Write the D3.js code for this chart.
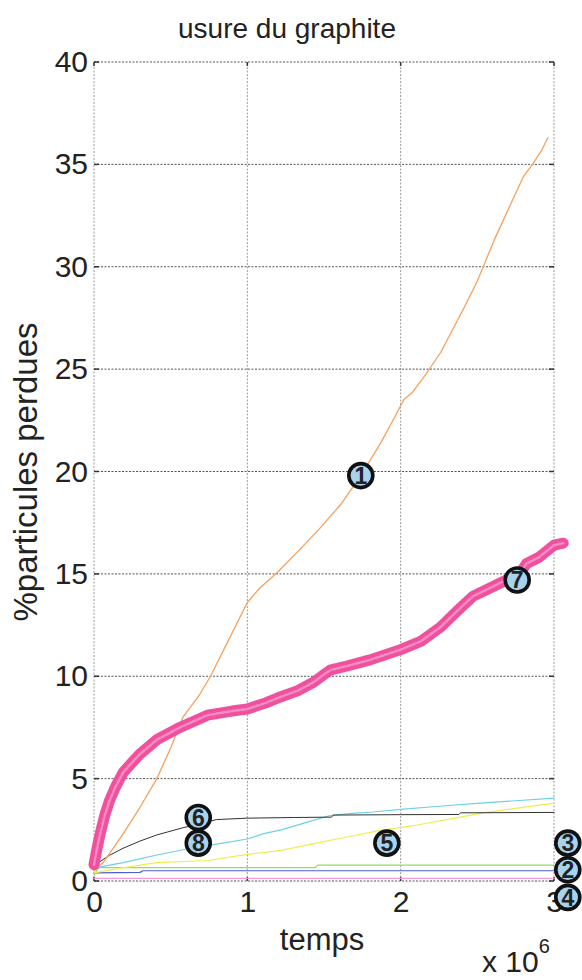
<!DOCTYPE html>
<html><head><meta charset="utf-8">
<script src="https://cdn.jsdelivr.net/npm/d3@7"></script>
<style>body{margin:0;background:#fff}svg{display:block}text{font-family:"Liberation Sans",Arial,Helvetica,sans-serif;fill:#222}</style>
</head><body><div id="chart"></div>
<script>
// time values in units of 1e6 (axis shows x 10^6)
const xTicks = [0, 1, 2, 3];
const yTicks = [0, 5, 10, 15, 20, 25, 30, 35, 40];

const s1x = [0,0.06,0.19,0.3,0.41,0.5,0.58,0.68,0.76,0.88,1.0,1.08,1.2,1.33,1.47,1.61,1.74,1.87,1.95,2.02,2.08,2.15,2.26,2.4,2.5,2.61,2.72,2.8,2.86,2.92,2.96];
const s1y = [0.5,0.9,2.3,3.6,5.0,6.5,8.0,9.0,10.0,11.8,13.6,14.3,15.1,16.1,17.2,18.4,19.8,21.4,22.5,23.5,23.9,24.6,25.8,27.8,29.3,31.3,33.1,34.4,35.0,35.7,36.3];

const s7x = [0,0.02,0.04,0.07,0.1,0.14,0.19,0.25,0.3,0.41,0.56,0.74,0.9,1.0,1.12,1.22,1.33,1.43,1.54,1.65,1.8,2.0,2.13,2.26,2.37,2.47,2.58,2.69,2.76,2.82,2.9,3.0,3.06];
const s7y = [0.8,1.6,2.3,3.2,3.9,4.6,5.3,5.8,6.2,6.9,7.5,8.1,8.3,8.4,8.7,9.0,9.3,9.7,10.3,10.5,10.8,11.3,11.7,12.4,13.2,13.9,14.3,14.7,14.8,15.5,15.8,16.4,16.5];

const blackX = [0,0.03,0.1,0.19,0.3,0.41,0.58,0.8,1.0,1.3,1.55,1.56,2.0,2.38,2.39,3.0];
const blackY = [0.6,0.9,1.25,1.6,1.95,2.25,2.6,3.0,3.07,3.1,3.12,3.22,3.24,3.25,3.33,3.35];

const cyanX = [0,0.05,0.19,0.41,0.63,0.84,1.0,1.1,1.22,1.38,1.54,1.68,1.82,2.0,2.25,2.52,2.75,3.0];
const cyanY = [0.55,0.7,0.9,1.27,1.6,1.85,2.05,2.3,2.5,2.85,3.2,3.3,3.37,3.5,3.65,3.8,3.92,4.05];

const yellowX = [0,0.15,0.41,0.74,1.0,1.22,1.45,1.65,1.85,2.08,2.3,2.52,2.75,3.0];
const yellowY = [0.4,0.6,0.9,1.0,1.3,1.5,1.85,2.15,2.45,2.7,3.0,3.3,3.55,3.8];

const greenX = [0,0.03,1.44,1.46,3.0];
const greenY = [0.3,0.65,0.65,0.78,0.78];

const blueX = [0,0.3,0.32,3.0];
const blueY = [0.4,0.42,0.5,0.5];

const pinkX = [0,3.0];
const pinkY = [0.13,0.13];

const markerLabels = ["1","7","6","8","5","3","2","4"];
const markerX = [1.74,2.76,0.68,0.68,1.91,3.09,3.09,3.09];
const markerY = [19.8,14.7,3.1,1.85,1.85,1.85,0.55,-0.8];

const W = 582, H = 980;
const svg = d3.select("#chart").append("svg").attr("width", W).attr("height", H);

const x = d3.scaleLinear().domain([0, 3]).range([94, 554]);
const y = d3.scaleLinear().domain([0, 40]).range([881, 62]);

// grid
const g = svg.append("g");
g.selectAll(".vg").data(xTicks).join("line")
  .attr("x1", d => x(d)).attr("x2", d => x(d)).attr("y1", y(0)).attr("y2", y(40))
  .attr("stroke", "#9a9a9a").attr("stroke-width", 1).attr("stroke-dasharray", "2,1.5");
g.selectAll(".hg").data(yTicks).join("line")
  .attr("x1", x(0)).attr("x2", x(3)).attr("y1", d => y(d)).attr("y2", d => y(d))
  .attr("stroke", "#555").attr("stroke-width", 1).attr("stroke-dasharray", "2,1.5");

// small inner ticks
g.selectAll(".tl").data(yTicks).join("line")
  .attr("x1", x(0)).attr("x2", x(0) + 5).attr("y1", d => y(d)).attr("y2", d => y(d))
  .attr("stroke", "#333").attr("stroke-width", 1.5);
g.selectAll(".tr").data(yTicks).join("line")
  .attr("x1", x(3) - 5).attr("x2", x(3)).attr("y1", d => y(d)).attr("y2", d => y(d))
  .attr("stroke", "#333").attr("stroke-width", 1.5);
g.selectAll(".tb").data(xTicks).join("line")
  .attr("x1", d => x(d)).attr("x2", d => x(d)).attr("y1", y(0)).attr("y2", y(0) - 4)
  .attr("stroke", "#333").attr("stroke-width", 1.5);
g.selectAll(".tt").data(xTicks).join("line")
  .attr("x1", d => x(d)).attr("x2", d => x(d)).attr("y1", y(40)).attr("y2", y(40) + 4)
  .attr("stroke", "#333").attr("stroke-width", 1.5);

// tick labels via axes
const yAxis = svg.append("g").attr("transform", `translate(${x(0)},0)`)
  .call(d3.axisLeft(y).tickValues(yTicks).tickSize(0).tickPadding(6));
yAxis.select(".domain").remove();
yAxis.selectAll("text").attr("font-size", 30).attr("font-family", "Liberation Sans, Arial, sans-serif").attr("fill", "#222");

const xAxis = svg.append("g").attr("transform", `translate(0,${y(0)})`)
  .call(d3.axisBottom(x).tickValues(xTicks).tickFormat(d3.format("d")).tickSize(0).tickPadding(10));
xAxis.select(".domain").remove();
xAxis.selectAll("text").attr("font-size", 30).attr("font-family", "Liberation Sans, Arial, sans-serif").attr("fill", "#222");

// lines
const line = d3.line().x(d => x(d[0])).y(d => y(d[1]));
function draw(xs, ys, color, w, dash) {
  const p = svg.append("path").datum(xs.map((v, i) => [v, ys[i]]))
    .attr("d", line).attr("fill", "none").attr("stroke", color).attr("stroke-width", w)
    .attr("stroke-linejoin", "round").attr("stroke-linecap", "round");
  if (dash) p.attr("stroke-dasharray", dash);
  return p;
}
draw(pinkX, pinkY, "#f09ae0", 1.2);
draw(blueX, blueY, "#4d5fd0", 1.2);
draw(greenX, greenY, "#9bd86a", 1.2);
draw(yellowX, yellowY, "#eeee50", 1.2);
draw(cyanX, cyanY, "#6fcfe6", 1.2);
draw(blackX, blackY, "#333", 1.0);
draw(s1x, s1y, "#f4a15f", 1.3);
draw(s7x, s7y, "#f0519f", 11);
draw(s7x, s7y, "#f68cc2", 2.5, "3,2");

// markers
const mk = svg.append("g").selectAll("g").data(markerLabels.map((l, i) => ({l, x: markerX[i], y: markerY[i]})))
  .join("g").attr("transform", d => `translate(${x(d.x)},${y(d.y)})`);
mk.append("circle").attr("r", 12).attr("fill", "#a7d3ef").attr("stroke", "#111").attr("stroke-width", 3.6);
mk.append("text").attr("text-anchor", "middle").attr("dy", "0.36em").attr("font-size", 23)
  .attr("font-weight", "bold").attr("fill", "#111").text(d => d.l);

// titles
svg.append("text").attr("x", 287).attr("y", 38).attr("text-anchor", "middle")
  .attr("font-size", 28).text("usure du graphite");
svg.append("text").attr("x", 322).attr("y", 950).attr("text-anchor", "middle")
  .attr("font-size", 31).text("temps");
svg.append("text").attr("transform", "translate(37,472) rotate(-90)").attr("text-anchor", "middle")
  .attr("font-size", 33).text("%particules perdues");
const ex = svg.append("text").attr("x", 482).attr("y", 972).attr("font-size", 30);
ex.append("tspan").text("x 10");
ex.append("tspan").attr("font-size", 20).attr("dy", -19).text("6");
</script></body></html>
